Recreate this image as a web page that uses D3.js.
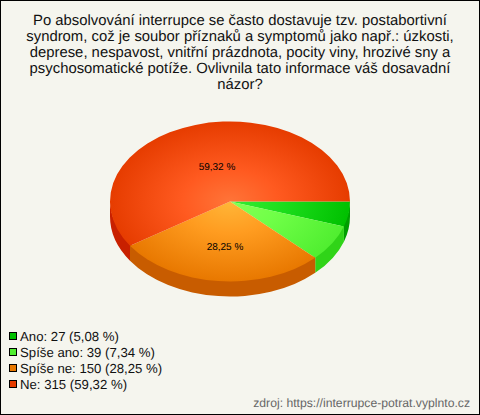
<!DOCTYPE html>
<html><head><meta charset="utf-8">
<script src="https://cdn.jsdelivr.net/npm/d3@7"></script>
<style>html,body{margin:0;padding:0;background:#f5f5ee}svg{display:block}text{font-family:"Liberation Sans",Arial,sans-serif;text-rendering:geometricPrecision}</style>
</head><body><svg id="c" width="480" height="415"></svg>
<script>
const titleLines = ["Po absolvování interrupce se často dostavuje tzv. postabortivní","syndrom, což je soubor příznaků a symptomů jako např.: úzkosti,","deprese, nespavost, vnitřní prázdnota, pocity viny, hrozivé sny a","psychosomatické potíže. Ovlivnila tato informace váš dosavadní","názor?"];
const categories = ["Ano","Spíše ano","Spíše ne","Ne"];
const values = [27,39,150,315];
const percents = ["5,08","7,34","28,25","59,32"];
const labelled = [false,false,true,true];
const inner = ["#35ec35","#86ff55","#ffb638","#ff7438"];
const mid = ["#1fe01f","#70ff48","#ff9c20","#ff5a20"];
const outer = ["#00c000","#50ee30","#e87800","#e63c00"];
const sides = ["#009e00","#30d418","#c85c00","#c82000"];
const legendFill = ["#00c000","#50ee30","#e87800","#e63c00"];
const source = "zdroj: https://interrupce-potrat.vyplnto.cz";

const svg = d3.select("#c");
svg.append("rect").attr("x",0.5).attr("y",0.5).attr("width",479).attr("height",414)
  .attr("fill","#f5f5ee").attr("stroke","#000").attr("stroke-width",1);

svg.append("text").attr("text-anchor","middle").attr("font-size",14.85).attr("fill","#111")
 .selectAll("tspan").data(titleLines).join("tspan")
 .attr("x",240).attr("y",(d,i)=>25+i*16).text(d=>d);

const cx=230, cy=201.5, rx=120, ry=80, depth=15;
const pie = d3.pie().sort(null).startAngle(Math.PI/2).endAngle(Math.PI*2.5);
const arcs = pie(values);
const g = svg.append("g").attr("transform",`translate(${cx},${cy}) scale(${rx},${ry})`);
const defs = svg.append("defs");
categories.forEach((c,i)=>{
  const gr = defs.append("radialGradient").attr("id","g"+i).attr("gradientUnits","userSpaceOnUse")
    .attr("cx",0).attr("cy",0).attr("r",1);
  gr.append("stop").attr("offset","0").attr("stop-color",inner[i]);
  gr.append("stop").attr("offset","0.4").attr("stop-color",mid[i]);
  gr.append("stop").attr("offset","1").attr("stop-color",outer[i]);
});
const d = depth/ry;
arcs.forEach((a,i)=>{
  const s0=Math.max(a.startAngle,Math.PI/2), s1=Math.min(a.endAngle,Math.PI*1.5);
  if(s1<=s0) return;
  const p=d3.path();
  p.arc(0,-0.03,1,s0-Math.PI/2,s1-Math.PI/2,false);
  p.arc(0,d,1,s1-Math.PI/2,s0-Math.PI/2,true);
  p.closePath();
  g.append("path").attr("d",p.toString()).attr("fill",sides[i]);
});
const arc = d3.arc().innerRadius(0).outerRadius(1);
g.selectAll("path.top").data(arcs).join("path").attr("class","top")
  .attr("d",arc).attr("fill",(a,i)=>`url(#g${i})`);

arcs.forEach((a,i)=>{
  if(!labelled[i]) return;
  svg.append("text").attr("x",i==3?cx-13:cx-5).attr("y",i==3?170:250).attr("text-anchor","middle")
    .attr("font-size",10).attr("fill","#000").text(percents[i]+" %");
});

const leg = svg.append("g");
categories.forEach((c,i)=>{
  const y=336+i*16;
  leg.append("rect").attr("x",9.5).attr("y",y-3.5).attr("width",7).attr("height",7)
    .attr("fill",legendFill[i]).attr("stroke","#000");
  leg.append("text").attr("x",20).attr("y",y+4.5).attr("font-size",13.2).attr("fill","#111")
    .text(`${c}: ${values[i]} (${percents[i]} %)`);
});
svg.append("text").attr("x",470).attr("y",407).attr("text-anchor","end").attr("font-size",12.2)
  .attr("fill","#666").text(source);
</script></body></html>
